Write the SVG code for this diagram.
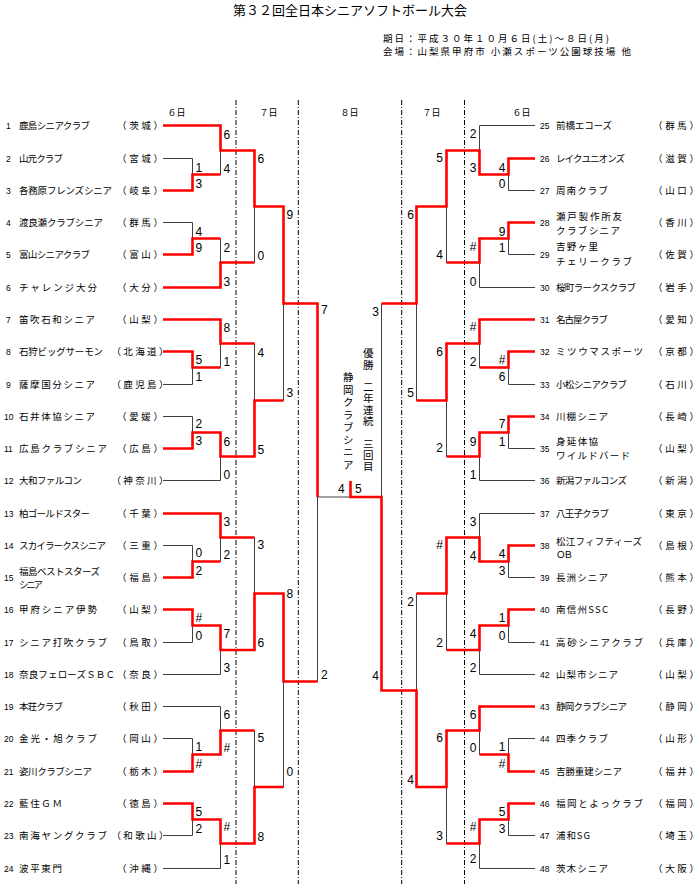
<svg xmlns="http://www.w3.org/2000/svg" width="700" height="884" viewBox="0 0 700 884">
<style>
text{fill:#000}
.t{font-family:"Noto Sans CJK JP","Liberation Sans",sans-serif;font-size:13px}
.i{font-family:"Noto Sans CJK JP","Liberation Sans",sans-serif;font-size:9.5px}
.d{font-family:"Noto Sans CJK JP","Liberation Sans",sans-serif;font-size:9px;text-anchor:middle}
.n{font-family:"Liberation Sans",sans-serif;font-size:8.5px}
.nm{font-family:"Noto Sans CJK JP","Liberation Sans",sans-serif;font-size:9.5px}
.pf{font-family:"Noto Sans CJK JP","Liberation Sans",sans-serif;font-size:9.5px;text-anchor:middle}
.sc{font-family:"Liberation Sans Narrow","Liberation Sans",sans-serif;font-size:12px}
.r{text-anchor:end}
.v{font-family:"Noto Sans CJK JP","Liberation Sans",sans-serif;font-size:10.5px;writing-mode:vertical-rl}
.blk{fill:none;stroke:#404040;stroke-width:1}
.red{fill:none;stroke:#ff0000;stroke-width:2.6;stroke-linejoin:miter}
.dash{fill:none;stroke:#000;stroke-width:1;stroke-dasharray:5 2 1 2}
</style>

<g id="header">
<text class="t" x="233" y="14.5" textLength="234">第３２回全日本シニアソフトボール大会</text>
<text class="i" x="383" y="42" textLength="226">期日：平成３０年１０月６日(土)～８日(月)</text>
<text class="i" x="383" y="55.3" textLength="248">会場：山梨県甲府市 小瀬スポーツ公園球技場 他</text>
<text class="d" x="176.5" y="116.4">６日</text>
<text class="d" x="268.5" y="116.4">７日</text>
<text class="d" x="349.5" y="116.4">８日</text>
<text class="d" x="431.5" y="116.4">７日</text>
<text class="d" x="521.5" y="116.4">６日</text>
</g>

<g id="day-dividers">
<path class="dash" d="M236 100V884M298.3 100V884M401.7 100V884M464.5 100V884"/>
</g>

<g id="connectors">
<path class="blk" d="M163 125.5H220.5M163 158.5H192.5M163 190.5H192.5M163 222.5H192.5M163 254.5H192.5M163 287.5H220.5M163 319.5H220.5M163 351.5H192.5M163 384.5H192.5M163 416.5H192.5M163 448.5H192.5M163 480.5H220.5M163 513.5H220.5M163 545.5H192.5M163 577.5H192.5M163 609.5H192.5M163 642.5H192.5M163 674.5H220.5M163 706.5H220.5M163 738.5H192.5M163 771.5H192.5M163 803.5H192.5M163 835.5H192.5M163 868.5H220.5
M192.5 158.5V190.5M192.5 174.5H220.5M192.5 222.5V254.5M192.5 238.5H220.5M192.5 351.5V384.5M192.5 367.5H220.5M192.5 416.5V448.5M192.5 432.5H220.5M192.5 545.5V577.5M192.5 561.5H220.5M192.5 609.5V642.5M192.5 625.5H220.5M192.5 738.5V771.5M192.5 754.5H220.5M192.5 803.5V835.5M192.5 819.5H220.5
M220.5 125.5V174.5M220.5 150.5H254.5M220.5 238.5V287.5M220.5 262.5H254.5M220.5 319.5V367.5M220.5 343.5H254.5M220.5 432.5V480.5M220.5 456.5H254.5M220.5 513.5V561.5M220.5 537.5H254.5M220.5 625.5V674.5M220.5 650H254.5M220.5 706.5V754.5M220.5 730.5H254.5M220.5 819.5V868.5M220.5 843.5H254.5
M254.5 150.5V262.5M254.5 206.5H283.5M254.5 343.5V456.5M254.5 400.5H283.5M254.5 537.5V650M254.5 593.5H283.5M254.5 730.5V843.5M254.5 787H283.5
M283.5 206.5V400.5M283.5 303.5H317.5M283.5 593.5V787M283.5 681.5H317.5
M317.5 303.5V681.5M317.5 497H350.5M381.5 303.5V690.5
M535 125.5H479.5M535 158.5H508.5M535 190.5H508.5M535 222.5H508.5M535 254.5H508.5M535 287.5H479.5M535 319.5H479.5M535 351.5H508.5M535 384.5H508.5M535 416.5H508.5M535 448.5H508.5M535 480.5H479.5M535 513.5H479.5M535 545.5H508.5M535 577.5H508.5M535 609.5H508.5M535 642.5H508.5M535 674.5H479.5M535 706.5H479.5M535 738.5H508.5M535 771.5H508.5M535 803.5H508.5M535 835.5H508.5M535 868.5H479.5
M508.5 158.5V190.5M508.5 174.5H479.5M508.5 222.5V254.5M508.5 238.5H479.5M508.5 351.5V384.5M508.5 367.5H479.5M508.5 416.5V448.5M508.5 432.5H479.5M508.5 545.5V577.5M508.5 561.5H479.5M508.5 609.5V642.5M508.5 625.5H479.5M508.5 738.5V771.5M508.5 754.5H479.5M508.5 803.5V835.5M508.5 819.5H479.5
M479.5 125.5V174.5M479.5 150.5H446.5M479.5 238.5V287.5M479.5 262.5H446.5M479.5 319.5V367.5M479.5 343.5H446.5M479.5 432.5V480.5M479.5 456.5H446.5M479.5 513.5V561.5M479.5 537.5H446.5M479.5 625.5V674.5M479.5 650H446.5M479.5 706.5V754.5M479.5 730.5H446.5M479.5 819.5V868.5M479.5 843.5H446.5
M446.5 150.5V262.5M446.5 206.5H416.5M446.5 343.5V456.5M446.5 400.5H416.5M446.5 537.5V650M446.5 593.5H416.5M446.5 730.5V843.5M446.5 787H416.5
M416.5 206.5V400.5M416.5 303.5H381.5M416.5 593.5V787M416.5 690.5H381.5"/>
<path class="red" d="M163 125.5H220.5V150.5H254.5V206.5H283.5V303.5H317.5V497
M163 190.5H192.5V174.5H220.5
M163 254.5H192.5V238.5H220.5
M163 287.5H220.5V262.5H254.5
M163 319.5H220.5V343.5H254.5
M163 351.5H192.5V367.5H220.5
M163 448.5H192.5V432.5H220.5V456.5H254.5V400.5H283.5
M163 513.5H220.5V537.5H254.5
M163 577.5H192.5V561.5H220.5
M163 609.5H192.5V625.5H220.5V650H254.5V593.5H283.5V681.5H317.5
M163 771.5H192.5V754.5H220.5V730.5H254.5
M163 803.5H192.5V819.5H220.5V843.5H254.5V787H283.5
M535 158.5H508.5V174.5H479.5V150.5H446.5V206.5H416.5V303.5H381.5
M535 222.5H508.5V238.5H479.5V262.5H446.5
M535 319.5H479.5V343.5H446.5V400.5H416.5
M535 351.5H508.5V367.5H479.5
M535 416.5H508.5V432.5H479.5V456.5H446.5
M535 545.5H508.5V561.5H479.5V537.5H446.5V593.5H416.5
M535 609.5H508.5V625.5H479.5V650H446.5
M535 706.5H479.5V730.5H446.5V787H416.5V690.5H381.5V497H350.5V481
M535 771.5H508.5V754.5H479.5
M535 803.5H508.5V819.5H479.5V843.5H446.5"/>
</g>

<g id="scores">
<text class="sc" x="195.5" y="171.7">1</text><text class="sc" x="195.5" y="188.3">3</text>
<text class="sc" x="195.5" y="235.7">4</text><text class="sc" x="195.5" y="252.3">9</text>
<text class="sc" x="195.5" y="364">5</text><text class="sc" x="195.5" y="381.3">1</text>
<text class="sc" x="195.5" y="428.3">2</text><text class="sc" x="195.5" y="445">3</text>
<text class="sc" x="195.5" y="557.3">0</text><text class="sc" x="195.5" y="575">2</text>
<text class="sc" x="195.5" y="622.3">#</text><text class="sc" x="195.5" y="639.7">0</text>
<text class="sc" x="195.5" y="750.7">1</text><text class="sc" x="195.5" y="768">#</text>
<text class="sc" x="195.5" y="815.7">5</text><text class="sc" x="195.5" y="833">2</text>
<text class="sc" x="223.5" y="139">6</text><text class="sc" x="223.5" y="173">4</text>
<text class="sc" x="223.5" y="251.7">2</text><text class="sc" x="223.5" y="285.7">3</text>
<text class="sc" x="223.5" y="332.3">8</text><text class="sc" x="223.5" y="366.3">1</text>
<text class="sc" x="223.5" y="445.7">6</text><text class="sc" x="223.5" y="479">0</text>
<text class="sc" x="223.5" y="525.7">3</text><text class="sc" x="223.5" y="559">2</text>
<text class="sc" x="223.5" y="638">7</text><text class="sc" x="223.5" y="672.3">3</text>
<text class="sc" x="223.5" y="719">6</text><text class="sc" x="223.5" y="752.3">#</text>
<text class="sc" x="223.5" y="830.7">#</text><text class="sc" x="223.5" y="864">1</text>
<text class="sc" x="257.5" y="163">6</text><text class="sc" x="257.5" y="260">0</text>
<text class="sc" x="257.5" y="356.7">4</text><text class="sc" x="257.5" y="454">5</text>
<text class="sc" x="257.5" y="549">3</text><text class="sc" x="257.5" y="647.3">6</text>
<text class="sc" x="257.5" y="742.3">5</text><text class="sc" x="257.5" y="840.7">8</text>
<text class="sc" x="286.5" y="219">9</text><text class="sc" x="286.5" y="397.3">3</text>
<text class="sc" x="286.5" y="598">8</text><text class="sc" x="286.5" y="776.3">0</text>
<text class="sc" x="321" y="314">7</text><text class="sc" x="321" y="679">2</text>
<text class="sc" x="338" y="493.3">4</text><text class="sc" x="355" y="493.3">5</text>
<text class="sc r" x="505.5" y="171.7">4</text><text class="sc r" x="505.5" y="188.3">0</text>
<text class="sc r" x="505.5" y="236.3">9</text><text class="sc r" x="505.5" y="252.3">1</text>
<text class="sc r" x="505.5" y="364">#</text><text class="sc r" x="505.5" y="381.3">6</text>
<text class="sc r" x="505.5" y="428.3">7</text><text class="sc r" x="505.5" y="445.7">1</text>
<text class="sc r" x="505.5" y="558.3">4</text><text class="sc r" x="505.5" y="575">3</text>
<text class="sc r" x="505.5" y="622.3">1</text><text class="sc r" x="505.5" y="639.7">0</text>
<text class="sc r" x="505.5" y="750.7">1</text><text class="sc r" x="505.5" y="768">#</text>
<text class="sc r" x="505.5" y="815.7">5</text><text class="sc r" x="505.5" y="833">3</text>
<text class="sc r" x="476.5" y="138.3">2</text><text class="sc r" x="476.5" y="172.3">3</text>
<text class="sc r" x="476.5" y="250.7">#</text><text class="sc r" x="476.5" y="285.7">0</text>
<text class="sc r" x="476.5" y="331.3">#</text><text class="sc r" x="476.5" y="366.3">2</text>
<text class="sc r" x="476.5" y="445.7">9</text><text class="sc r" x="476.5" y="479">1</text>
<text class="sc r" x="476.5" y="525.7">3</text><text class="sc r" x="476.5" y="559.7">4</text>
<text class="sc r" x="476.5" y="638.3">4</text><text class="sc r" x="476.5" y="672.3">2</text>
<text class="sc r" x="476.5" y="719">6</text><text class="sc r" x="476.5" y="752.3">0</text>
<text class="sc r" x="476.5" y="830.7">#</text><text class="sc r" x="476.5" y="863">2</text>
<text class="sc r" x="443" y="162.3">5</text><text class="sc r" x="443" y="259">4</text>
<text class="sc r" x="443" y="355.7">6</text><text class="sc r" x="443" y="452.3">2</text>
<text class="sc r" x="443" y="549">#</text><text class="sc r" x="443" y="646.7">2</text>
<text class="sc r" x="443" y="742.3">6</text><text class="sc r" x="443" y="839.7">3</text>
<text class="sc r" x="414" y="219">6</text><text class="sc r" x="414" y="397.3">5</text>
<text class="sc r" x="414" y="605.7">2</text><text class="sc r" x="414" y="784">4</text>
<text class="sc r" x="379" y="315.7">3</text><text class="sc r" x="379" y="680">4</text>
</g>

<g id="champion">
<text class="v" x="368.3" y="348" letter-spacing="0.8">優勝　二年連続　三回目</text>
<text class="v" x="348.3" y="372" letter-spacing="2">静岡クラブシニア</text>
</g>

<g id="team-1"><text class="n" x="6" y="128.5">1</text><text class="nm" x="19" y="129" textLength="71">鹿島シニアクラブ</text><text class="pf" x="140" y="129" textLength="46">（茨城）</text></g>
<g id="team-2"><text class="n" x="6" y="161.5">2</text><text class="nm" x="19" y="162" textLength="44">山元クラブ</text><text class="pf" x="140" y="162" textLength="46">（宮城）</text></g>
<g id="team-3"><text class="n" x="6" y="193.5">3</text><text class="nm" x="19" y="194" textLength="93">各務原フレンズシニア</text><text class="pf" x="140" y="194" textLength="46">（岐阜）</text></g>
<g id="team-4"><text class="n" x="6" y="225.5">4</text><text class="nm" x="19" y="226" textLength="84">渡良瀬クラブシニア</text><text class="pf" x="140" y="226" textLength="46">（群馬）</text></g>
<g id="team-5"><text class="n" x="6" y="257.5">5</text><text class="nm" x="19" y="258" textLength="71">富山シニアクラブ</text><text class="pf" x="140" y="258" textLength="46">（富山）</text></g>
<g id="team-6"><text class="n" x="6" y="290.5">6</text><text class="nm" x="19" y="291" textLength="78">チャレンジ大分</text><text class="pf" x="140" y="291" textLength="46">（大分）</text></g>
<g id="team-7"><text class="n" x="6" y="322.5">7</text><text class="nm" x="19" y="323" textLength="76">笛吹石和シニア</text><text class="pf" x="140" y="323" textLength="46">（山梨）</text></g>
<g id="team-8"><text class="n" x="6" y="354.5">8</text><text class="nm" x="19" y="355" textLength="84">石狩ビッグサーモン</text><text class="pf" x="140" y="355" textLength="57">（北海道）</text></g>
<g id="team-9"><text class="n" x="6" y="387.5">9</text><text class="nm" x="19" y="388" textLength="76">薩摩国分シニア</text><text class="pf" x="140" y="388" textLength="57">（鹿児島）</text></g>
<g id="team-10"><text class="n" x="4" y="419.5">10</text><text class="nm" x="19" y="420" textLength="76">石井体協シニア</text><text class="pf" x="140" y="420" textLength="46">（愛媛）</text></g>
<g id="team-11"><text class="n" x="4" y="451.5">11</text><text class="nm" x="19" y="452" textLength="88">広島クラブシニア</text><text class="pf" x="140" y="452" textLength="46">（広島）</text></g>
<g id="team-12"><text class="n" x="4" y="483.5">12</text><text class="nm" x="19" y="484" textLength="63">大和ファルコン</text><text class="pf" x="140" y="484" textLength="57">（神奈川）</text></g>
<g id="team-13"><text class="n" x="4" y="516.5">13</text><text class="nm" x="19" y="517" textLength="71">柏ゴールドスター</text><text class="pf" x="140" y="517" textLength="46">（千葉）</text></g>
<g id="team-14"><text class="n" x="4" y="548.5">14</text><text class="nm" x="19" y="549" textLength="87">スカイラークスシニア</text><text class="pf" x="140" y="549" textLength="46">（三重）</text></g>
<g id="team-15"><text class="n" x="4" y="581">15</text><text class="nm" x="19" y="574.5" textLength="81">福島ベストスターズ</text><text class="nm" x="19" y="588" textLength="24">シニア</text><text class="pf" x="140" y="581" textLength="46">（福島）</text></g>
<g id="team-16"><text class="n" x="4" y="612.5">16</text><text class="nm" x="19" y="613" textLength="78">甲府シニア伊勢</text><text class="pf" x="140" y="613" textLength="46">（山梨）</text></g>
<g id="team-17"><text class="n" x="4" y="645.5">17</text><text class="nm" x="19" y="646" textLength="88">シニア打吹クラブ</text><text class="pf" x="140" y="646" textLength="46">（鳥取）</text></g>
<g id="team-18"><text class="n" x="4" y="677.5">18</text><text class="nm" x="19" y="678" textLength="96">奈良フェローズＳＢＣ</text><text class="pf" x="140" y="678" textLength="46">（奈良）</text></g>
<g id="team-19"><text class="n" x="4" y="709.5">19</text><text class="nm" x="19" y="710" textLength="44">本荘クラブ</text><text class="pf" x="140" y="710" textLength="46">（秋田）</text></g>
<g id="team-20"><text class="n" x="4" y="741.5">20</text><text class="nm" x="19" y="742" textLength="78">金光・旭クラブ</text><text class="pf" x="140" y="742" textLength="46">（岡山）</text></g>
<g id="team-21"><text class="n" x="4" y="774.5">21</text><text class="nm" x="19" y="775" textLength="73">姿川クラブシニア</text><text class="pf" x="140" y="775" textLength="46">（栃木）</text></g>
<g id="team-22"><text class="n" x="4" y="806.5">22</text><text class="nm" x="19" y="807" textLength="43">藍住ＧＭ</text><text class="pf" x="140" y="807" textLength="46">（徳島）</text></g>
<g id="team-23"><text class="n" x="4" y="838.5">23</text><text class="nm" x="19" y="839" textLength="88">南海ヤングクラブ</text><text class="pf" x="140" y="839" textLength="57">（和歌山）</text></g>
<g id="team-24"><text class="n" x="4" y="871.5">24</text><text class="nm" x="19" y="872" textLength="43">波平東門</text><text class="pf" x="140" y="872" textLength="46">（沖縄）</text></g>

<g id="team-25"><text class="n" x="540" y="128.5">25</text><text class="nm" x="556" y="129" textLength="56">前橋エコーズ</text><text class="pf" x="676" y="129" textLength="46">（群馬）</text></g>
<g id="team-26"><text class="n" x="540" y="161.5">26</text><text class="nm" x="556" y="162" textLength="69">レイクユニオンズ</text><text class="pf" x="676" y="162" textLength="46">（滋賀）</text></g>
<g id="team-27"><text class="n" x="540" y="193.5">27</text><text class="nm" x="556" y="194" textLength="52">周南クラブ</text><text class="pf" x="676" y="194" textLength="46">（山口）</text></g>
<g id="team-28"><text class="n" x="540" y="225.5">28</text><text class="nm" x="556" y="220.2" textLength="66">瀬戸製作所友</text><text class="nm" x="556" y="233.5" textLength="64">クラブシニア</text><text class="pf" x="676" y="226" textLength="46">（香川）</text></g>
<g id="team-29"><text class="n" x="540" y="257.5">29</text><text class="nm" x="556" y="250.2" textLength="42">吉野ヶ里</text><text class="nm" x="556" y="265.2" textLength="76">チェリークラブ</text><text class="pf" x="676" y="258" textLength="46">（佐賀）</text></g>
<g id="team-30"><text class="n" x="540" y="290.5">30</text><text class="nm" x="556" y="291" textLength="80">桜町ラークスクラブ</text><text class="pf" x="676" y="291" textLength="46">（岩手）</text></g>
<g id="team-31"><text class="n" x="540" y="322.5">31</text><text class="nm" x="556" y="323" textLength="52">名古屋クラブ</text><text class="pf" x="676" y="323" textLength="46">（愛知）</text></g>
<g id="team-32"><text class="n" x="540" y="354.5">32</text><text class="nm" x="556" y="355" textLength="87">ミツウマスポーツ</text><text class="pf" x="676" y="355" textLength="46">（京都）</text></g>
<g id="team-33"><text class="n" x="540" y="387.5">33</text><text class="nm" x="556" y="388" textLength="71">小松シニアクラブ</text><text class="pf" x="676" y="388" textLength="46">（石川）</text></g>
<g id="team-34"><text class="n" x="540" y="419.5">34</text><text class="nm" x="556" y="420" textLength="52">川棚シニア</text><text class="pf" x="676" y="420" textLength="46">（長崎）</text></g>
<g id="team-35"><text class="n" x="540" y="451.5">35</text><text class="nm" x="556" y="445.2" textLength="42">身延体協</text><text class="nm" x="556" y="458.5" textLength="74">ワイルドバード</text><text class="pf" x="676" y="452" textLength="46">（山梨）</text></g>
<g id="team-36"><text class="n" x="540" y="483.5">36</text><text class="nm" x="556" y="484" textLength="71">新潟ファルコンズ</text><text class="pf" x="676" y="484" textLength="46">（新潟）</text></g>
<g id="team-37"><text class="n" x="540" y="516.5">37</text><text class="nm" x="556" y="517" textLength="53">八王子クラブ</text><text class="pf" x="676" y="517" textLength="46">（東京）</text></g>
<g id="team-38"><text class="n" x="540" y="548.5">38</text><text class="nm" x="556" y="544.8" textLength="86">松江フィフティーズ</text><text class="nm" x="556" y="557.8" textLength="17">ＯＢ</text><text class="pf" x="676" y="549" textLength="46">（島根）</text></g>
<g id="team-39"><text class="n" x="540" y="581">39</text><text class="nm" x="556" y="581" textLength="52">長洲シニア</text><text class="pf" x="676" y="581" textLength="46">（熊本）</text></g>
<g id="team-40"><text class="n" x="540" y="612.5">40</text><text class="nm" x="556" y="613" textLength="52">南信州SSC</text><text class="pf" x="676" y="613" textLength="46">（長野）</text></g>
<g id="team-41"><text class="n" x="540" y="645.5">41</text><text class="nm" x="556" y="646" textLength="87">高砂シニアクラブ</text><text class="pf" x="676" y="646" textLength="46">（兵庫）</text></g>
<g id="team-42"><text class="n" x="540" y="677.5">42</text><text class="nm" x="556" y="678" textLength="62">山梨市シニア</text><text class="pf" x="676" y="678" textLength="46">（山梨）</text></g>
<g id="team-43"><text class="n" x="540" y="709.5">43</text><text class="nm" x="556" y="710" textLength="71">静岡クラブシニア</text><text class="pf" x="676" y="710" textLength="46">（静岡）</text></g>
<g id="team-44"><text class="n" x="540" y="741.5">44</text><text class="nm" x="556" y="742" textLength="52">四季クラブ</text><text class="pf" x="676" y="742" textLength="46">（山形）</text></g>
<g id="team-45"><text class="n" x="540" y="774.5">45</text><text class="nm" x="556" y="775" textLength="66">吉勝重建シニア</text><text class="pf" x="676" y="775" textLength="46">（福井）</text></g>
<g id="team-46"><text class="n" x="540" y="806.5">46</text><text class="nm" x="556" y="807" textLength="87">福岡とよっクラブ</text><text class="pf" x="676" y="807" textLength="46">（福岡）</text></g>
<g id="team-47"><text class="n" x="540" y="838.5">47</text><text class="nm" x="556" y="839" textLength="34">浦和SG</text><text class="pf" x="676" y="839" textLength="46">（埼玉）</text></g>
<g id="team-48"><text class="n" x="540" y="871.5">48</text><text class="nm" x="556" y="872" textLength="52">茨木シニア</text><text class="pf" x="676" y="872" textLength="46">（大阪）</text></g>
</svg>
